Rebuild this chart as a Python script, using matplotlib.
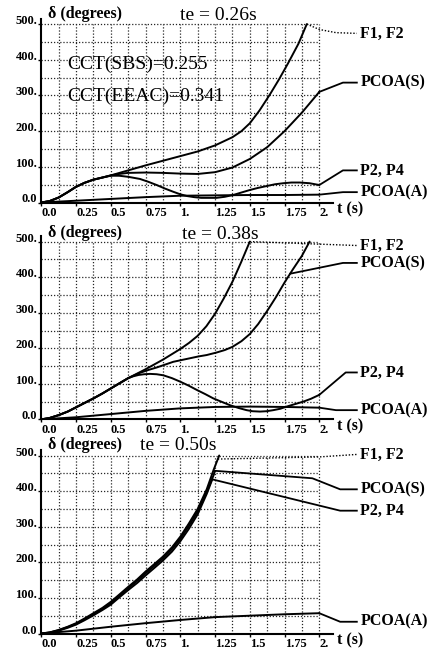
import numpy as np
import matplotlib
matplotlib.use('Agg')
import matplotlib.pyplot as plt

# ---------------- data ----------------
te_labels = ["te = 0.26s", "te = 0.38s", "te = 0.50s"]
series_names = ["F1, F2", "PCOA(S)", "P2, P4", "PCOA(A)"]
x_ticks = [0, 0.25, 0.5, 0.75, 1.0, 1.25, 1.5, 1.75, 2.0]
x_tick_labels = ["0.0", "0.25", "0.5", "0.75", "1.", "1.25", "1.5", "1.75", "2."]
y_ticks = [0, 100, 200, 300, 400, 500]
y_tick_labels = ["0.0", "100.", "200.", "300.", "400.", "500."]
cct_texts = ["CCT(SBS)=0.255", "CCT(EEAC)=0.341"]

# panel 1 (te = 0.26 s)
t_p1_f12 = [0, 0.06, 0.125, 0.19, 0.25, 0.31, 0.375, 0.44, 0.5, 0.625, 0.75, 0.875, 1.0, 1.125,
            1.25, 1.375, 1.44, 1.5, 1.57, 1.645, 1.71, 1.775, 1.85, 1.91]
d_p1_f12 = [0, 4, 14, 29, 44, 55, 64, 70, 76, 90, 104, 117, 130, 143,
            160, 183, 200, 222, 258, 303, 345, 390, 445, 500]
t_p1_pcs = [0, 0.06, 0.125, 0.19, 0.25, 0.31, 0.375, 0.44, 0.5, 0.56, 0.625, 0.75, 0.875, 1.0,
            1.125, 1.25, 1.375, 1.5, 1.625, 1.75, 1.875, 2.0]
d_p1_pcs = [0, 4, 14, 29, 44, 55, 64, 70, 76, 80, 83, 84, 83, 81,
            80, 85, 98, 122, 155, 200, 252, 310]
t_p1_p24 = [0, 0.06, 0.125, 0.19, 0.25, 0.31, 0.375, 0.44, 0.5, 0.56, 0.625, 0.71, 0.77, 0.83,
            0.89, 0.95, 1.0, 1.05, 1.1, 1.15, 1.26, 1.32, 1.38, 1.44, 1.5, 1.56, 1.62, 1.68,
            1.74, 1.8, 1.86, 1.93, 2.0]
d_p1_p24 = [0, 4, 14, 29, 44, 55, 64, 70, 75, 75, 72, 66, 58, 49,
            39, 30, 23, 18, 15, 13, 13, 16, 21, 28, 35, 41, 46, 51,
            54, 56, 56, 54, 49]
t_p1_pca = [0, 0.25, 0.5, 0.75, 1.0, 1.25, 1.5, 1.75, 2.0]
d_p1_pca = [0, 5, 10, 15, 19, 20, 21, 21, 22]

# panel 2 (te = 0.38 s)
t_p2_f12 = [0, 0.06, 0.125, 0.19, 0.25, 0.31, 0.375, 0.44, 0.5, 0.56, 0.625, 0.75, 0.875, 1.0,
            1.0625, 1.125, 1.1875, 1.25, 1.3125, 1.375, 1.4375, 1.5]
d_p2_f12 = [0, 4, 12, 22, 34, 46, 59, 73, 87, 101, 116, 141, 168, 198,
            215, 235, 262, 297, 340, 387, 442, 500]
t_p2_pcs = [0, 0.06, 0.125, 0.19, 0.25, 0.31, 0.375, 0.44, 0.5, 0.56, 0.625, 0.67, 0.71, 0.77,
            0.83, 0.89, 0.95, 1.01, 1.07, 1.13, 1.19, 1.26, 1.32, 1.375, 1.44, 1.5, 1.56,
            1.625, 1.69, 1.75, 1.81, 1.875, 1.93]
d_p2_pcs = [0, 4, 12, 22, 34, 46, 59, 73, 87, 101, 116, 124, 131, 139,
            146, 154, 162, 167, 172, 177, 181, 188, 195, 204, 220, 240, 268,
            305, 345, 385, 422, 460, 500]
t_p2_p24 = [0, 0.06, 0.125, 0.19, 0.25, 0.31, 0.375, 0.44, 0.5, 0.56, 0.625, 0.66, 0.7, 0.74,
            0.782, 0.83, 0.878, 0.94, 1.0, 1.06, 1.118, 1.18, 1.238, 1.3, 1.357, 1.42, 1.477,
            1.52, 1.573, 1.62, 1.669, 1.72, 1.765, 1.825, 1.885, 1.94, 2.0]
d_p2_p24 = [0, 4, 12, 22, 34, 46, 59, 73, 87, 101, 116, 121, 125, 127,
            128, 127, 124, 116, 106, 95, 83, 71, 59, 49, 40, 32, 26,
            23, 22, 23, 26, 30, 36, 43, 50, 58, 69]
t_p2_pca = [0, 0.25, 0.5, 0.75, 1.0, 1.25, 1.5, 1.75, 2.0]
d_p2_pca = [0, 6, 15, 24, 31, 35, 36, 35, 33]

# panel 3 (te = 0.50 s)
t_p3_f12 = [0, 0.06, 0.125, 0.19, 0.25, 0.31, 0.375, 0.44, 0.5, 0.56, 0.625, 0.69, 0.75, 0.81,
            0.875, 0.94, 1.0, 1.06, 1.125, 1.19, 1.24, 1.28]
d_p3_f12 = [0, 3, 10, 19, 29, 42, 57, 72, 89, 109, 131, 152, 174, 194,
            216, 242, 272, 308, 350, 405, 460, 500]
t_p3_pcs = [0, 0.06, 0.125, 0.19, 0.25, 0.31, 0.375, 0.44, 0.5, 0.56, 0.625, 0.69, 0.75, 0.81,
            0.875, 0.94, 1.0, 1.06, 1.125, 1.19, 1.24, 1.25]
d_p3_pcs = [0, 3, 9, 18, 27, 40, 54, 69, 85, 105, 127, 148, 169, 189,
            211, 237, 266, 301, 343, 398, 445, 457]
t_p3_p24 = [0, 0.06, 0.125, 0.19, 0.25, 0.31, 0.375, 0.44, 0.5, 0.56, 0.625, 0.69, 0.75, 0.81,
            0.875, 0.94, 1.0, 1.06, 1.125, 1.19, 1.23]
d_p3_p24 = [0, 2, 8, 16, 25, 37, 51, 66, 81, 101, 122, 142, 163, 183,
            205, 230, 259, 293, 335, 392, 433]
t_p3_pca = [0, 0.25, 0.5, 0.75, 1.0, 1.25, 1.5, 1.75, 2.0]
d_p3_pca = [0, 8, 19, 29, 38, 46, 50, 54, 57]

panel_series = [
    [(t_p1_f12, d_p1_f12), (t_p1_pcs, d_p1_pcs), (t_p1_p24, d_p1_p24), (t_p1_pca, d_p1_pca)],
    [(t_p2_f12, d_p2_f12), (t_p2_pcs, d_p2_pcs), (t_p2_p24, d_p2_p24), (t_p2_pca, d_p2_pca)],
    [(t_p3_f12, d_p3_f12), (t_p3_pcs, d_p3_pcs), (t_p3_p24, d_p3_p24), (t_p3_pca, d_p3_pca)],
]

# ---------------- layout / style ----------------
W, H = 433, 651
fig = plt.figure(figsize=(W / 100, H / 100), dpi=100)
plt.rcParams['font.family'] = ['Liberation Serif', 'DejaVu Serif']

X0_PX = 41.3
PX_PER_S = 139.0
TMAX = 2.1
YMAX = 515
geo = [(202.5, 0.3568), (419.4, 0.3556), (633.5, 0.356)]  # (x-axis row px, px per degree)
head_py = [14, 233.3, 445]       # pixel row of the header line of each panel
title_t = [1.0, 1.01, 0.71]

# leader definitions per panel: (attach t on curve, via points, label value, linestyle)
leaders = [
    [(None, [(2.0, 485), (2.12, 476)], 474, 'dot'),
     (None, [(2.17, 336)], 336, '-'),
     (None, [(2.17, 90)], 90, '-'),
     (None, [(2.17, 29)], 29, '-')],
    [(None, [], 489, 'dot'),
     (1.79, [(2.17, 440)], 440, '-'),
     (None, [(2.19, 132)], 132, '-'),
     (None, [(2.12, 26)], 26, '-')],
    [(1.27, [(2.0, 496)], 503, 'dot'),
     (None, [(1.95, 436), (2.15, 405)], 405, '-'),
     (None, [(2.15, 345)], 345, '-'),
     (None, [(2.15, 33)], 33, '-')],
]

LBL_T = 2.295
LBL_END = 2.27
CURVE_LW = 1.4

for i in range(3):
    y0, s = geo[i]
    ax = fig.add_axes([X0_PX / W, (H - y0) / H, TMAX * PX_PER_S / W, YMAX * s / H])
    ax.set_xlim(0, TMAX)
    ax.set_ylim(0, YMAX)
    for sp in ['top', 'right']:
        ax.spines[sp].set_visible(False)
    for sp in ['left', 'bottom']:
        ax.spines[sp].set_linewidth(1.5)
    ax.set_facecolor('white')

    # dotted grid inside [0,2] x [0,500]
    for k in range(1, 17):
        ax.vlines(0.125 * k, 0, 500, colors='0.15', linewidth=0.9, linestyles=(0, (1, 1.5)), zorder=1)
    for k in range(1, 11):
        ax.hlines(50 * k, 0, 2.0, colors='0.15', linewidth=0.9, linestyles=(0, (1, 1.5)), zorder=1)

    # curves
    for (t, d) in panel_series[i]:
        ax.plot(t, d, color='black', lw=CURVE_LW, zorder=3, solid_capstyle='round',
                solid_joinstyle='round')

    # leaders + labels
    for (name, (t, d), (att, via, lv, ls)) in zip(series_names, panel_series[i], leaders[i]):
        if att is None:
            p0 = (t[-1], d[-1])
        else:
            p0 = (att, float(np.interp(att, t, d)))
        pts = [p0] + via + [(LBL_END, lv)]
        xs = [p[0] for p in pts]
        ys = [p[1] for p in pts]
        if ls == 'dot':
            ax.plot(xs, ys, color='black', lw=1.0, linestyle=(0, (1, 1.3)), clip_on=False, zorder=3)
        else:
            ax.plot(xs, ys, color='black', lw=1.3, clip_on=False, zorder=3)
        ax.text(LBL_T, lv, name, ha='left', va='center', fontsize=11.5, fontweight='bold',
                clip_on=False)

    # ticks
    ax.set_xticks(x_ticks)
    ax.set_xticklabels(x_tick_labels, ha='left', fontsize=9, fontweight='bold')
    ax.set_yticks(y_ticks)
    ax.set_yticklabels(y_tick_labels, va='baseline', fontsize=9, fontweight='bold')
    ax.tick_params(axis='x', length=2.5, width=1, pad=0.5, direction='out')
    ax.tick_params(axis='y', length=2.5, width=1, pad=0.5, direction='out')

    # axis labels and title
    ax.text(0.048, (y0 - head_py[i]) / s, "\u03b4 (degrees)", ha='left', va='center',
            fontsize=11.5, fontweight='bold', clip_on=False)
    ax.text(title_t[i], (y0 - head_py[i] - 1) / s, te_labels[i], ha='left', va='center',
            fontsize=14, clip_on=False)
    ax.text(2.13, -7.0 / s, "t (s)", ha='left', va='center', fontsize=11.5, fontweight='bold',
            clip_on=False)

    if i == 0:
        ax.text(0.19, 388, cct_texts[0], ha='left', va='center', fontsize=14, clip_on=False,
                zorder=4)
        ax.text(0.19, 298, cct_texts[1], ha='left', va='center', fontsize=14, clip_on=False,
                zorder=4)

fig.savefig('out.png', dpi=100, facecolor='white')
